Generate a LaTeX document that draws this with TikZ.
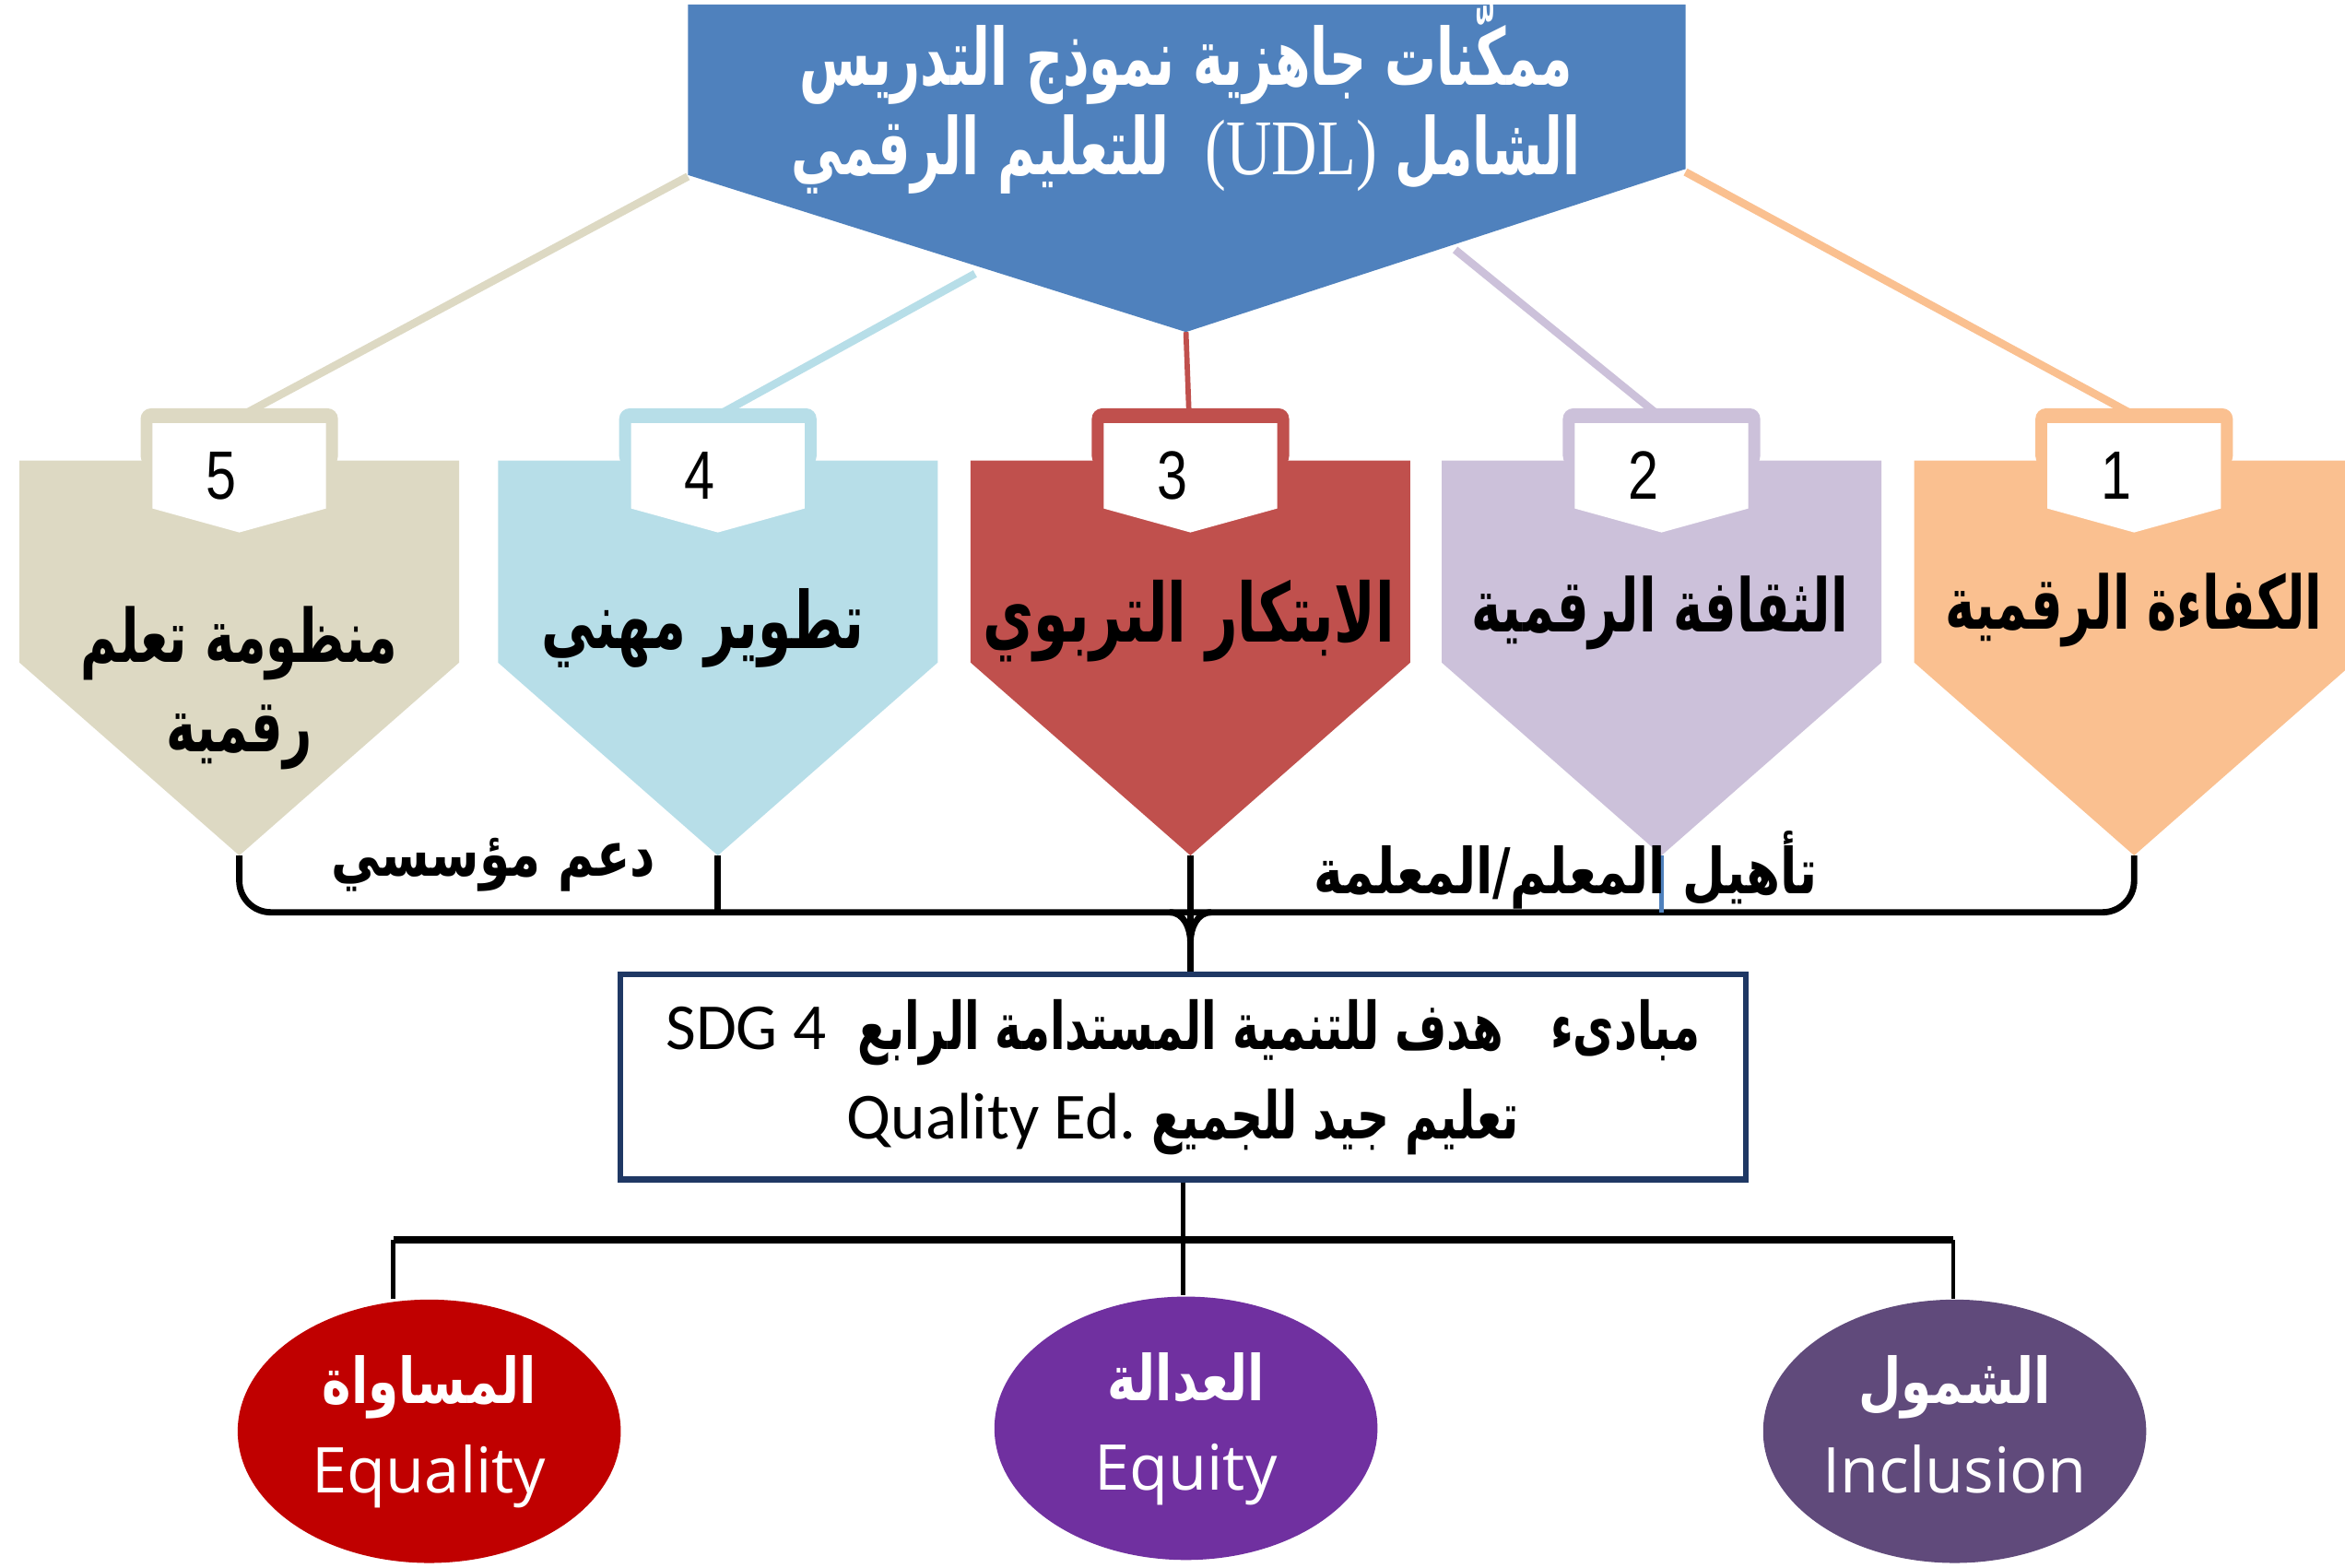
\documentclass[tikz,border=0pt]{standalone}
\usepackage{fontspec}
\setmainfont{Liberation Serif}
\newfontfamily\arabicfont[Script=Arabic,FakeStretch=0.78]{DejaVu Sans}
\newfontfamily\arabicnarrow[Script=Arabic,FakeStretch=0.68]{DejaVu Sans}
\newfontfamily\titlefont[Script=Arabic,FakeStretch=0.65]{DejaVu Sans}
\newfontfamily\udlfont[FakeStretch=0.8]{Liberation Serif}
\newfontfamily\calibrifont{Carlito}
\newfontfamily\segoefont{Open Sans}
\newfontfamily\numfont[FakeStretch=0.8]{Liberation Sans}
\TeXXeTstate=1
\usetikzlibrary{positioning,shapes.geometric}
\definecolor{udlblue}{HTML}{4F81BD}
\definecolor{kafaa}{HTML}{FAC090}
\definecolor{thaqafa}{HTML}{CCC1DA}
\definecolor{ibtikar}{HTML}{C0504D}
\definecolor{tatwir}{HTML}{B7DEE8}
\definecolor{manzuma}{HTML}{DDD9C3}
\definecolor{boxnavy}{HTML}{1F3864}
\definecolor{equalred}{HTML}{C00000}
\definecolor{equitypurple}{HTML}{7030A0}
\definecolor{inclpurple}{HTML}{604A7B}
\tikzset{
  numtext/.style={font=\numfont\fontsize{13}{13}\selectfont},
  chevlab/.style={align=center,font=\arabicnarrow\bfseries\fontsize{14}{17}\selectfont},
  brlab/.style={font=\arabicfont\bfseries\fontsize{12}{14}\selectfont},
  brkt/.style={line width=1.2pt},
  sdgbox/.style={draw=boxnavy,line width=1.1pt,minimum width=7.52cm,minimum height=1.37cm,inner sep=2pt,
    align=center,font=\arabicnarrow\bfseries\fontsize{12.5}{17}\selectfont},
  value/.style={ellipse,minimum width=2.56cm,minimum height=1.76cm,inner sep=0pt,text=white,
    align=center,font=\segoefont\fontsize{12}{16}\selectfont}
}
\begin{document}
\begin{tikzpicture}[x=0.01cm,y=-0.01cm]
\useasboundingbox (0,0) rectangle (1568,1048);
\clip (0,0) rectangle (1568,1048);

% banner end points of the five lines
\coordinate (b1) at (1127,115);
\coordinate (b2) at (973,167);
\coordinate (b3) at (793,222);
\coordinate (b4) at (652,183);
\coordinate (b5) at (460,118);
\foreach \n/\cx in {1/1424,2/1107,3/795,4/483,5/165}{
   \coordinate (top\n) at (\cx,276);
}
\foreach \n/\col/\w in {1/kafaa/1.5pt,2/thaqafa/1.5pt,3/ibtikar/1pt,4/tatwir/1.5pt,5/manzuma/1.5pt}{
   \draw[\col,line width=\w] (b\n)--(top\n);
}
\fill[udlblue] (460,3)--(1127,3)--(1127,113)--(793,222)--(460,117)--cycle;
\node[text=white,align=center,font=\titlefont\bfseries\fontsize{15}{17}\selectfont] (title) at (793,66)
  {\beginR ممكّنات جاهزية نموذج التدريس\endR\\
   \beginR الشامل \beginL{\udlfont\mdseries\fontsize{15}{17}\selectfont(UDL)}\endL\ \ للتعليم الرقمي\endR};

\foreach \n/\cx/\col in {1/1427/kafaa,2/1111/thaqafa,3/796/ibtikar,4/480/tatwir,5/160/manzuma}{
   \fill[\col] (\cx-147,308)--(\cx+147,308)--(\cx+147,443)--(\cx,572)--(\cx-147,443)--cycle;
   \fill[\col,rounded corners=2] (\cx-66,312)--(\cx-66,273)--(\cx+66,273)--(\cx+66,312)--cycle;
   \fill[white] (\cx-58,283)--(\cx+58,283)--(\cx+58,340)--(\cx,356)--(\cx-58,340)--cycle;
   \coordinate (tip\n) at (\cx,572);
   \node[numtext] (num\n) at (\cx-12,318) {\n};
}
\node[chevlab] (lab1) at (1427,408) {\beginR الكفاءة الرقمية\endR};
\node[chevlab] (lab2) at (1110,410) {\beginR الثقافة الرقمية\endR};
\node[chevlab,font=\arabicnarrow\bfseries\fontsize{15.5}{17}\selectfont] (lab3) at (795,415) {\beginR الابتكار التربوي\endR};
\node[chevlab,font=\arabicnarrow\bfseries\fontsize{15}{17}\selectfont] (lab4) at (470,420) {\beginR تطوير مهني\endR};
\node[chevlab] (lab5) at (160,460) {\beginR منظومة تعلم\endR\\ \beginR رقمية\endR};

% upper bracket
\coordinate (brk) at (0,610);
\node[sdgbox] (sdg) at (791,720)
  {\beginR مبادىء\ \ \ هدف للتنمية المستدامة الرابع\ \ \beginL{\calibrifont\mdseries SDG 4}\endL\endR\\
   \beginR تعليم جيد للجميع \beginL{\calibrifont\mdseries Quality Ed.}\endL\endR};
\draw[brkt,rounded corners=6] (tip5)--(tip5 |- brk)--(tip1 |- brk)--(tip1);
\draw[brkt] (tip4)--(tip4 |- brk);
\draw[brkt] (tip3)--(tip3 |- sdg.north);
\draw[brkt] ([xshift=-0.14cm]tip3 |- brk) to[out=0,in=90] ([yshift=-0.2cm]tip3 |- brk);
\draw[brkt] ([xshift=0.14cm]tip3 |- brk) to[out=180,in=90] ([yshift=-0.2cm]tip3 |- brk);
\draw[udlblue,line width=0.8pt] (tip2)--(tip2 |- brk);
\node[brlab] (support) at (330,578) {\beginR دعم مؤسسي\endR};
\node[brlab] (qualify) at (1047,582) {\beginR تأهيل المعلم/المعلمة\endR};

% the three values
\node[value,fill=equalred] (equal) at (287,957)
  {{\arabicfont\bfseries\beginR المساواة\endR}\strut\\[1pt] Equality\strut};
\node[value,fill=equitypurple] (equity) at (793,955)
  {{\arabicfont\bfseries\beginR العدالة\endR}\strut\\[1pt] Equity\strut};
\node[value,fill=inclpurple] (incl) at (1307,957)
  {{\arabicfont\bfseries\beginR الشمول\endR}\strut\\[1pt] Inclusion\strut};
\coordinate (eqj) at (263,829);
\coordinate (inj) at (1306,829);
\draw[line width=1.4pt] (eqj)--(inj);
\draw[line width=0.8pt] (eqj)--(eqj |- equal.north);
\draw[line width=0.8pt] (inj)--(inj |- incl.north);
\draw[line width=0.8pt] (sdg.south)--(sdg.south |- equity.north);
\end{tikzpicture}
\end{document}
